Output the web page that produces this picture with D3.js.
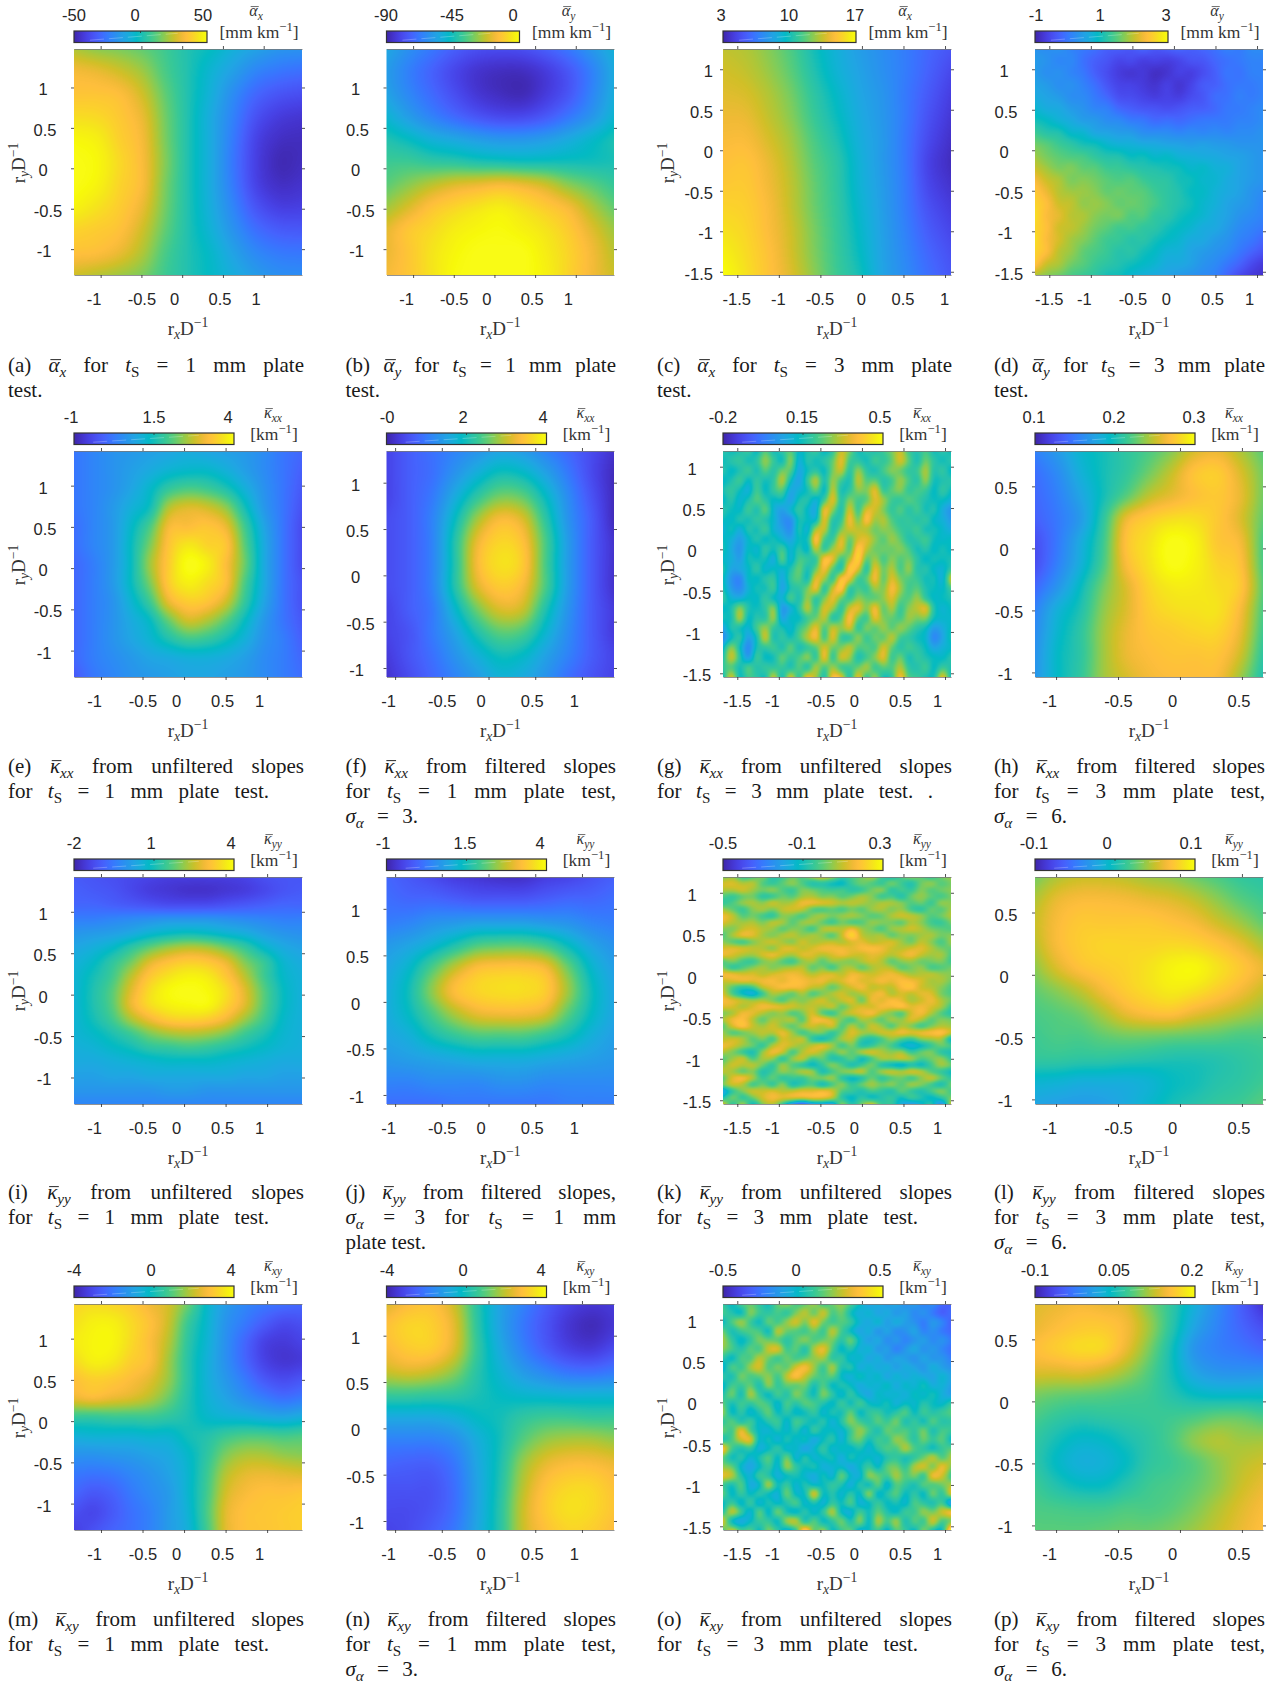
<!DOCTYPE html>
<html>
<head>
<meta charset="utf-8">
<title>Mean deflection and curvature fields</title>
<script src="https://cdn.jsdelivr.net/npm/d3@7"></script>
<style>
  body { margin: 0; background: #fff; }
  svg { display: block; }
</style>
</head>
<body>
<div id="chart"></div>
<script>
// parula colour stops, position in the map (0-63) and colour
const parulaIdx = [0,3,6,9,12,15,18,21,24,27,30,33,36,39,42,45,48,51,53,56,59,62,63];
const parulaHex = ["#3e26a8","#4432cb","#4741e5","#4852f4","#4563fd","#3875fe","#2e87f7","#2796eb","#20a5e3","#12b1d6","#02bac3","#24c1ae","#37c897","#57cc7a","#81cc59","#abc739","#d1bf27","#f0ba36","#febe3c","#fccf2d","#f5e51b","#f7f90a","#f9fb15"];

// fields, rows top to bottom, columns left to right
// (a) alpha_x, 1 mm, mm/km
const alphaX1mm = [
[22,18,16,13,8,2,-2,-8,-13,-17,-18],
[32,30,26,20,10,2,-6,-14,-22,-26,-28],
[36,36,34,26,13,2,-8,-20,-30,-35,-37],
[42,41,37,30,15,2,-10,-23,-36,-42,-44],
[48,46,39,32,16,2,-10,-25,-40,-46,-47],
[50,48,41,33,17,2,-10,-26,-41,-48,-47],
[50,47,40,33,16,2,-10,-25,-40,-46,-45],
[47,43,38,30,15,2,-9,-22,-35,-41,-41],
[40,38,35,26,13,2,-7,-18,-28,-33,-34],
[35,34,30,22,10,2,-4,-13,-21,-25,-26],
[26,23,20,16,8,2,-3,-9,-15,-19,-20]];
// (b) alpha_y, 1 mm, mm/km
const alphaY1mm = [
[-55,-62,-68,-74,-78,-79,-78,-74,-68,-60,-52],
[-58,-66,-73,-80,-85,-87,-87,-83,-76,-66,-54],
[-56,-64,-71,-78,-84,-87,-88,-83,-76,-65,-53],
[-50,-58,-65,-71,-76,-79,-79,-75,-68,-60,-50],
[-43,-47,-52,-55,-58,-60,-60,-58,-54,-49,-44],
[-38,-38,-40,-41,-43,-44,-45,-45,-45,-45,-44],
[-34,-29,-24,-20,-18,-16,-18,-22,-29,-34,-39],
[-27,-20,-13,-9,-6,-4,-7,-11,-16,-25,-33],
[-19,-12,-8,-4,-2,-1,-3,-6,-11,-19,-27],
[-18,-12,-6,-2,0,0,0,-4,-9,-16,-24],
[-16,-12,-6,-1,0,0,0,-3,-9,-16,-22]];
// (c) alpha_x, 3 mm, 0.1 mm/km
const alphaX3mm = [
[134,131,124,114,100,89,80,73,66,58,51],
[137,134,127,117,103,91,82,74,66,56,46],
[140,138,131,121,107,95,84,76,65,53,42],
[143,142,134,124,110,98,86,77,65,50,39],
[146,146,138,128,114,102,88,78,64,47,36],
[149,150,142,131,117,106,90,78,64,44,34],
[152,152,144,133,119,107,91,79,65,46,37],
[156,154,146,134,120,108,93,80,66,50,41],
[160,156,147,136,122,109,95,81,68,54,45],
[165,158,149,137,123,110,97,82,70,58,49],
[170,160,150,139,125,111,100,83,72,61,52]];
// (d) alpha_y, 3 mm, 0.1 mm/km
const alphaY3mm = [
[3,2,3,1,0,-1,-3,-3,-4,-2,-4,-3,-2,-3,-2,-1,1,0,2,2],
[4,3,1,2,-1,-3,-4,-6,-5,-7,-6,-7,-6,-4,-4,-2,-1,0,1,1],
[4,2,3,1,0,-3,-5,-7,-8,-7,-9,-8,-6,-7,-5,-3,0,-1,1,1],
[5,4,2,3,1,-1,-4,-6,-6,-7,-8,-6,-8,-6,-3,-3,-1,0,0,1],
[6,5,4,2,2,0,-2,-5,-5,-6,-7,-6,-7,-5,-4,-1,-1,1,0,1],
[8,6,6,4,3,1,1,-2,-3,-4,-4,-5,-4,-3,-3,-2,0,0,1,2],
[10,9,7,6,4,4,2,2,0,0,-2,-1,-2,-1,0,0,0,1,1,2],
[13,11,11,8,8,5,5,4,4,2,2,2,1,2,1,2,1,2,2,3],
[16,15,13,12,10,10,8,7,7,6,6,5,5,4,5,4,4,3,3,3],
[18,16,15,14,14,12,11,11,9,10,8,9,7,7,6,6,5,5,4,3],
[20,18,16,17,15,15,13,13,12,11,11,10,10,8,9,7,7,5,4,3],
[23,20,19,16,17,16,15,14,15,13,12,12,10,10,8,8,6,5,4,3],
[25,22,19,18,18,17,15,16,15,15,13,12,11,9,9,7,6,5,3,2],
[26,24,20,20,17,18,17,15,16,15,14,12,11,10,8,7,5,4,3,1],
[27,23,22,19,19,17,16,17,14,15,12,12,10,9,8,6,5,3,2,1],
[26,24,20,20,18,16,15,13,14,12,12,10,9,8,6,6,4,2,1,0],
[27,23,21,18,17,15,13,13,11,12,10,9,8,6,6,4,3,1,0,-2],
[26,24,19,18,15,14,13,11,12,10,9,7,7,5,4,3,2,0,-2,-4],
[25,20,19,16,15,13,12,11,10,9,8,6,6,5,3,2,0,-2,-5,-7],
[19,17,16,14,13,12,10,10,8,7,6,5,4,3,2,1,-2,-5,-7,-8]];
// (e) kappa_xx unfiltered, 1 mm, 0.1 /km
const kxxRaw1mm = [
[2,4,6,7,8,9,10,9,8,7,5,2,0],
[2,4,6,8,10,12,13,13,11,8,5,2,-1],
[2,4,6,9,13,18,20,19,16,11,6,2,-2],
[2,4,7,11,15,26,29,28,24,15,7,2,-3],
[1,4,7,13,20,31,32,33,30,19,9,2,-4],
[1,4,7,14,23,33,37,35,33,21,10,2,-4],
[0,3,7,14,25,34,40,38,32,22,10,2,-4],
[0,3,7,14,23,34,38,36,32,20,10,2,-3],
[0,3,6,12,19,30,34,33,28,18,9,2,-3],
[0,3,6,10,14,22,28,26,21,14,7,2,-2],
[0,3,6,9,12,16,19,18,15,11,6,3,-1],
[0,3,5,7,9,10,11,11,10,8,5,3,0],
[-2,2,4,6,7,8,9,9,8,7,5,3,1]];
// (f) kappa_xx filtered, 1 mm, 0.1 /km
const kxxFilt1mm = [
[4,7,9,11,13,15,14,11,8,5,2],
[4,7,9,13,17,20,19,15,10,5,1],
[4,7,10,16,22,26,25,19,12,6,1],
[5,7,11,19,28,33,31,22,13,7,1],
[5,7,11,21,32,36,34,24,14,7,2],
[5,7,11,21,33,37,35,24,14,7,2],
[5,7,11,21,31,35,33,24,14,7,2],
[4,7,10,18,26,31,30,21,13,7,3],
[4,6,10,15,21,25,24,18,12,7,3],
[3,6,9,13,17,20,19,15,11,7,4],
[2,5,8,11,14,17,16,13,9,6,4]];
// (g) kappa_xx unfiltered, 3 mm, 0.01 /km
const kxxRaw3mm = [
[18,14,16,20,12,24,14,18,24,12,16,20,12,18,34,26,14,18,16,20,26,34,20,16,22,14,18,14],
[14,18,20,14,18,30,20,12,30,8,18,14,18,24,38,20,18,14,22,18,24,36,24,14,26,18,14,18],
[18,12,16,22,14,24,16,26,24,6,14,18,12,26,34,16,30,18,14,22,28,24,18,20,32,16,20,12],
[12,16,22,12,20,14,18,34,14,4,20,34,14,30,20,14,34,22,24,16,20,30,22,16,30,14,16,18],
[16,20,14,8,22,12,20,24,6,10,14,26,10,34,14,18,28,26,38,18,24,28,18,22,20,12,20,14],
[12,18,10,16,24,18,12,14,4,16,18,8,20,38,16,28,20,22,36,30,20,18,24,20,16,14,14,10],
[18,14,12,22,14,26,10,4,12,20,12,6,40,28,14,36,18,36,34,26,18,24,16,22,14,18,8,2],
[14,12,18,14,20,16,12,2,0,16,14,10,38,16,18,40,24,42,28,32,22,18,20,16,20,12,10,4],
[10,16,8,18,14,22,10,6,0,18,8,32,34,14,26,34,32,30,24,28,26,20,18,22,14,16,12,8],
[14,10,4,12,18,12,16,10,6,14,14,44,20,18,38,22,34,36,28,22,30,24,16,18,22,14,12,14],
[16,8,2,14,10,20,14,22,10,18,10,34,16,30,36,20,44,32,24,26,24,28,22,14,18,12,16,12],
[12,10,4,16,14,16,6,26,8,22,20,16,42,38,18,30,46,22,30,20,28,22,26,18,12,16,14,16],
[18,6,8,12,20,10,14,10,16,26,14,24,40,22,14,44,36,14,38,24,32,20,30,16,18,12,10,18],
[14,2,-2,14,12,18,20,6,20,24,12,38,30,16,42,38,18,24,40,22,36,26,22,20,14,16,8,34],
[16,4,0,10,16,14,22,4,16,18,26,40,14,34,44,16,22,18,30,26,40,30,20,24,16,14,12,20],
[20,10,8,14,12,20,12,10,24,14,30,16,26,38,24,18,28,24,22,28,36,24,22,30,18,12,14,16],
[12,16,30,16,14,18,30,2,8,18,34,18,36,30,16,34,38,26,40,22,32,18,28,32,38,16,10,14],
[16,14,34,12,18,16,32,4,14,12,20,24,34,14,22,42,24,18,38,26,24,20,30,26,28,14,12,12],
[6,18,14,10,22,30,18,16,10,20,26,38,20,34,28,36,16,28,22,30,22,30,24,18,14,4,8,14],
[0,12,20,4,14,36,14,20,14,22,32,40,18,38,18,16,30,18,26,22,34,20,18,14,12,-2,6,16],
[12,30,14,-2,16,18,22,14,26,14,18,22,36,24,26,34,22,24,20,36,24,16,22,18,14,6,10,12],
[16,36,18,2,22,12,14,26,18,22,30,16,40,16,36,30,14,20,28,38,18,26,14,20,16,14,12,18],
[20,22,14,24,16,20,18,20,14,24,14,32,20,30,18,20,24,32,18,24,22,32,18,16,22,12,20,16],
[14,36,12,22,18,14,34,12,36,16,38,30,14,40,36,14,38,18,30,14,18,40,22,20,16,14,38,14]];
// (h) kappa_xx filtered, 3 mm, 0.001 /km
const kxxFilt3mm = [
[154,170,190,200,210,220,234,254,260,244,224],
[144,160,184,200,212,230,250,272,276,256,230],
[140,154,176,200,224,248,260,270,274,260,230],
[136,150,170,210,260,276,284,284,274,256,226],
[126,150,180,216,270,286,300,294,274,264,220],
[126,154,184,220,266,286,300,294,280,270,220],
[140,166,196,230,256,280,290,290,284,274,224],
[154,184,204,236,256,276,284,286,286,266,220],
[160,190,210,240,260,272,276,280,280,260,216],
[164,194,210,240,260,268,272,272,272,252,210],
[166,194,212,240,254,264,268,268,266,240,204]];
// (i) kappa_yy unfiltered, 1 mm, 0.1 /km
const kyyRaw1mm = [
[-10,-11,-12,-13,-14,-15,-15,-15,-15,-14,-12,-11,-11],
[-9,-10,-11,-13,-15,-16,-17,-17,-16,-15,-13,-11,-10],
[-8,-8,-9,-10,-11,-12,-12,-12,-11,-10,-9,-8,-8],
[-4,-4,-3,-2,-1,0,0,0,-1,-2,-3,-4,-4],
[0,1,2,4,7,9,10,9,7,5,2,0,-1],
[3,5,8,13,18,22,24,23,19,14,8,4,2],
[5,8,13,19,27,31,33,32,28,20,14,7,4],
[6,10,15,24,32,36,38,37,32,24,15,8,5],
[6,11,17,27,35,39,40,39,35,27,17,9,5],
[6,11,17,28,35,38,39,39,34,27,17,9,5],
[6,10,15,23,29,33,34,33,29,22,15,8,5],
[6,8,11,15,20,23,24,23,20,15,11,7,5],
[5,6,8,10,13,14,15,14,12,10,8,6,5],
[4,4,5,6,7,8,8,8,7,6,5,4,4],
[2,2,3,3,4,4,4,4,4,3,3,2,2],
[0,0,0,0,0,1,1,0,0,0,0,0,0],
[-3,-3,-3,-3,-3,-3,-3,-3,-3,-3,-3,-3,-3]];
// (j) kappa_yy filtered, 1 mm, 0.1 /km
const kyyFilt1mm = [
[0,-2,-4,-6,-7,-8,-8,-6,-5,-3,-1],
[1,0,0,-1,-2,-2,-2,-1,0,0,1],
[3,4,6,7,8,8,8,7,6,4,3],
[7,9,12,16,20,21,21,19,14,9,6],
[9,13,20,27,32,33,33,31,22,13,8],
[10,15,24,32,35,36,36,34,25,15,9],
[10,14,20,26,30,31,31,29,21,14,9],
[9,11,15,18,20,20,20,18,15,11,8],
[7,8,9,10,11,11,11,10,9,8,7],
[4,4,5,5,5,6,6,5,5,5,5],
[1,1,1,2,2,2,2,2,3,3,3]];
// (k) kappa_yy unfiltered, 3 mm, 0.01 /km
const kyyRaw3mm = [
[2,6,-6,-2,4,-8,-4,2,-2,6,12,6,-6,-2,2,8,-4,-10,-2,4,0,-6,2,6],
[12,13,8,10,-2,-6,0,6,-2,-10,-8,-12,-14,-4,2,-2,-6,4,-4,-10,2,6,-2,2],
[8,8,12,6,2,6,-2,-6,4,2,-2,-4,-2,-8,-6,2,6,-8,-2,-6,4,-2,2,4],
[-2,-6,0,2,-8,-6,2,-2,6,8,2,4,-2,2,8,4,-6,-2,-10,2,6,0,-4,2],
[-6,-2,6,8,4,12,6,8,16,16,14,12,8,10,8,4,8,8,4,-2,2,-6,6,4],
[6,0,-6,4,8,2,10,12,10,-2,-4,0,-4,2,-2,6,8,2,6,-4,-8,2,-2,6],
[16,10,-2,2,-4,-8,4,2,-4,4,8,2,6,8,4,-2,0,8,12,10,6,-2,2,8],
[13,8,6,8,2,10,8,-2,6,8,0,-6,2,-4,-2,6,4,2,-2,8,4,-4,-6,2],
[4,2,10,12,8,6,-2,4,2,-6,8,12,8,16,6,2,-4,6,8,12,8,2,0,-2],
[-2,8,16,14,6,2,8,10,4,8,4,-4,10,26,8,6,8,-2,4,2,6,8,2,4],
[4,-2,-6,2,8,12,6,2,12,6,8,10,6,12,14,8,10,13,6,0,10,4,-4,6],
[12,14,12,10,8,2,13,14,8,12,16,16,16,13,17,18,16,10,8,12,14,8,2,0],
[16,12,8,6,12,16,10,6,14,13,8,12,16,12,10,14,12,8,13,17,10,6,8,-2],
[-2,4,-4,-6,2,6,-2,-6,4,8,-2,6,4,2,8,12,8,-2,4,6,0,2,4,-4],
[2,-8,-2,4,8,2,6,8,10,-2,4,-6,6,8,-2,6,10,8,-2,2,6,-4,-2,2],
[17,16,12,13,8,12,14,16,13,8,12,14,8,16,14,10,13,16,12,6,8,10,6,4],
[10,13,16,14,16,17,13,18,17,14,16,10,13,18,12,13,17,14,18,16,12,6,8,2],
[8,-2,-8,-4,10,14,18,17,16,10,8,-2,6,12,17,8,10,8,17,20,10,8,4,-2],
[12,-4,-14,-20,-6,8,4,-2,8,-4,2,8,12,4,8,13,17,6,12,8,14,13,2,-2],
[17,14,10,6,8,2,-4,6,2,8,13,4,10,14,-2,16,12,18,14,6,10,16,8,2],
[13,12,6,12,17,16,14,12,8,10,6,12,-2,8,13,10,17,16,20,13,16,12,8,-4],
[2,6,16,14,8,2,6,-4,2,13,-2,-8,6,12,14,18,8,2,-4,12,17,8,-2,-8],
[8,16,18,8,-2,8,6,10,-4,16,18,12,2,-6,8,4,-2,8,4,14,8,-2,4,2],
[-2,13,20,10,6,12,4,-2,8,12,6,14,-4,10,-2,12,6,-4,8,2,-6,2,8,6],
[6,-4,0,6,10,8,16,6,-6,2,4,-8,2,14,8,6,12,12,17,14,16,18,20,12],
[8,12,8,-2,4,-6,12,8,12,-8,-14,-4,8,10,-6,-10,-4,6,-2,-6,4,6,8,-14],
[16,12,6,2,-8,8,14,10,4,10,16,8,-6,4,-10,-6,2,-4,-14,-18,-14,-6,2,-2],
[8,2,-6,-12,6,17,12,-6,8,14,6,-2,8,-2,10,14,8,4,8,-6,2,4,-8,-10],
[-2,6,12,-4,8,6,-10,6,12,-4,2,-10,-8,2,-14,-4,8,8,12,8,-2,2,6,-6],
[4,12,8,10,2,-8,8,-2,-8,-14,-6,6,-2,-12,-4,4,-10,-14,-18,-10,-14,-4,8,2],
[10,6,-2,4,-10,-4,6,2,10,8,-12,-4,4,8,12,-4,8,12,8,14,10,-2,-6,-12],
[-2,14,18,8,-6,2,-8,-4,-6,2,4,8,-8,-14,-10,2,-8,-2,2,-6,4,12,2,-6],
[4,12,8,-6,2,-8,6,-12,-6,-2,-14,-4,6,-6,2,8,2,6,-2,8,4,-4,-12,2],
[-22,-6,4,12,10,13,8,10,14,13,17,13,-2,-4,-10,-2,-6,-10,2,-6,-10,-2,6,-4],
[-10,4,-8,2,12,17,14,16,16,18,17,12,-8,-14,-6,-14,-8,-4,-12,-2,-8,-14,-6,2],
[12,-8,8,-14,4,10,-4,-24,-36,-20,-18,-22,6,-10,2,12,-6,-4,-18,-22,-14,-6,-28,10]];
// (l) kappa_yy filtered, 3 mm, 0.001 /km
const kyyFilt3mm = [
[30,44,50,50,46,40,36,28,20,12,8],
[44,60,66,66,64,60,56,48,36,24,16],
[50,66,74,74,74,74,70,64,52,40,26],
[46,66,76,80,80,80,82,80,72,60,44],
[36,56,70,76,80,86,94,96,86,74,60],
[26,36,48,64,76,84,90,86,76,64,50],
[20,24,30,44,60,68,70,60,52,44,36],
[16,20,20,26,30,30,28,26,24,20,20],
[12,12,10,10,8,6,4,4,6,10,14],
[-10,-12,-16,-16,-16,-12,-4,0,6,10,16],
[-24,-28,-30,-28,-20,-10,0,6,12,16,24]];
// (m) kappa_xy unfiltered, 1 mm, 0.1 /km
const kxyRaw1mm = [
[32,33,32,30,25,21,11,-3,-12,-17,-20,-22,-24],
[34,37,37,33,28,20,6,-4,-14,-20,-26,-30,-29],
[36,38,38,33,27,18,4,-5,-15,-24,-32,-34,-32],
[33,37,36,31,27,16,3,-6,-15,-24,-32,-35,-34],
[28,31,30,27,23,15,3,-6,-13,-20,-27,-30,-28],
[24,26,24,22,18,11,2,-5,-10,-15,-19,-22,-20],
[5,5,6,6,6,4,1,-3,-5,-6,-8,-9,-7],
[-6,-5,-5,-5,-4,-4,0,2,6,8,8,7,8],
[-14,-14,-13,-12,-10,-8,-3,4,13,17,17,15,14],
[-20,-21,-20,-17,-14,-10,-4,6,18,23,24,23,22],
[-24,-27,-25,-20,-16,-12,-4,7,21,26,28,28,29],
[-29,-31,-27,-22,-18,-12,-5,8,23,28,29,30,31],
[-33,-29,-25,-22,-18,-12,-6,7,23,28,29,30,31]];
// (n) kappa_xy filtered, 1 mm, 0.1 /km
const kxyFilt1mm = [
[22,27,28,20,3,-10,-18,-26,-32,-35,-34],
[28,32,31,23,4,-10,-20,-28,-35,-38,-35],
[26,30,30,22,5,-8,-18,-26,-32,-34,-30],
[20,22,20,14,3,-5,-12,-17,-21,-22,-20],
[6,6,5,4,1,-2,-4,-5,-6,-6,-6],
[-8,-8,-8,-6,-2,0,4,6,6,5,5],
[-18,-18,-18,-15,-7,0,9,15,17,17,15],
[-24,-25,-25,-20,-9,1,15,23,26,26,24],
[-28,-28,-28,-22,-10,2,18,28,32,32,28],
[-30,-30,-28,-22,-10,3,20,30,34,33,29],
[-32,-30,-26,-20,-9,3,20,28,32,31,27]];
// (o) kappa_xy unfiltered, 3 mm, 0.01 /km
const kxyRaw3mm = [
[6,-4,10,14,6,-2,14,20,8,12,22,6,14,20,10,-2,-14,-8,-16,-10,-20,-14,-24,-18,-30,-32],
[10,2,-6,20,8,4,10,2,16,26,10,30,8,16,-2,-10,-4,-14,-8,-18,-12,-22,-16,-26,-34,-28],
[-4,12,24,6,-4,16,6,20,30,14,34,14,6,12,8,-6,-12,-2,-16,-6,-14,-18,-26,-14,-20,-32],
[14,-2,8,12,10,-6,28,14,10,6,16,4,28,8,-4,-14,-6,-20,-10,-22,-18,-10,-24,-18,-26,-30],
[22,6,-6,4,18,14,10,2,12,20,8,14,16,2,18,-4,-16,-8,-22,-14,-24,-18,-12,-22,-16,-24],
[18,10,2,14,6,28,32,6,14,-2,24,34,10,-6,4,-10,-4,-18,-12,-26,-16,-8,-20,-14,-22,-28],
[4,-6,12,8,26,14,4,16,6,12,18,22,2,8,-8,-2,-14,-6,-18,-10,-14,-20,-10,-18,-16,-24],
[-8,14,4,22,30,8,18,10,28,36,20,4,26,0,6,-12,-4,-12,-6,-16,-8,-12,-18,-6,-14,-18],
[6,-2,18,8,12,20,6,26,38,24,14,8,14,-4,-10,2,-8,-2,-14,-4,-12,-6,-10,-14,-4,-12],
[-6,10,6,14,-2,22,4,14,10,16,-2,12,-6,4,-2,-12,-4,-8,0,-12,-2,-8,2,-10,-6,-14],
[2,18,-4,26,6,-6,12,0,20,8,-4,20,6,-8,8,-6,-14,-2,-8,-4,-10,0,-6,2,-8,-16],
[12,-2,10,4,14,8,-8,12,2,14,10,2,-6,10,-4,12,-2,-6,2,-10,-2,-6,4,-2,-6,6],
[20,-6,6,-8,2,16,-4,6,-6,-2,8,-8,4,-2,16,-6,6,8,-2,4,14,-4,10,2,8,12],
[4,14,-2,10,-6,4,10,-8,12,4,-4,6,-10,4,20,8,2,14,6,18,-2,8,-4,14,2,4],
[16,6,36,8,-4,-8,2,-6,4,-10,10,-4,-2,-8,6,22,10,-2,16,8,12,4,18,-2,10,8],
[-2,10,28,34,-6,2,-10,4,-6,2,-14,-2,6,-10,10,16,-2,10,4,22,14,2,16,6,14,-4],
[38,8,-2,6,-10,-4,8,-8,-2,-16,-4,8,-8,0,-6,2,-8,4,12,8,26,10,4,-4,6,12],
[10,-4,6,-8,2,14,-6,18,-10,6,-8,-2,2,-12,4,-6,-2,-8,2,6,-2,4,14,28,8,22],
[18,14,-6,-14,-4,8,-8,24,6,-2,4,-10,-6,-4,-14,-2,8,-6,14,16,4,24,30,12,34,18],
[32,26,2,-8,10,2,-10,-4,2,-6,-12,2,-10,18,-4,-10,22,14,8,24,10,18,2,36,28,6],
[6,-2,14,-12,-6,28,-2,8,-8,4,-6,-2,8,2,-12,6,-6,16,-10,12,6,-2,14,8,14,22],
[14,-6,8,-4,6,-4,-10,18,-6,-2,36,-4,4,-8,6,-6,24,-8,4,14,-4,6,-6,18,2,30],
[-4,8,-8,10,-10,4,-6,2,14,-8,2,-10,6,-2,14,-10,-4,8,-4,2,-8,12,4,-2,10,-24],
[2,30,10,-10,16,-8,20,-2,-8,6,-8,6,28,-6,-10,10,-2,14,2,-6,10,6,22,14,28,38],
[30,-8,-14,-4,8,6,-6,24,28,-4,14,-6,4,18,-2,22,-6,26,8,24,-2,14,4,32,8,12],
[10,26,6,12,-4,18,4,-8,6,44,10,20,-4,8,14,-8,-2,10,-6,14,6,-4,18,2,-6,50]];
// (p) kappa_xy filtered, 3 mm, 0.001 /km
const kxyFilt3mm = [
[134,140,146,140,134,98,65,26,-10,-46,-85],
[140,152,161,161,146,110,62,14,-16,-40,-61],
[152,164,173,170,140,98,50,-1,-19,-28,-40],
[134,134,137,128,110,83,50,14,-1,-4,-4],
[98,92,89,86,80,74,59,44,38,38,38],
[80,68,62,65,68,71,74,80,89,89,80],
[68,50,38,41,53,65,80,104,116,110,110],
[65,41,26,29,44,65,74,86,104,119,128],
[74,56,44,44,59,74,80,89,104,125,140],
[80,77,74,74,80,80,86,98,116,134,149],
[86,86,86,89,92,92,98,110,125,140,155]];

// colour limits in the same units as the fields
const colorLimits = [[-50,50],[-90,0],[30,170],[-10,30],[-10,40],[0,40],[-20,50],[100,300],[-20,40],[-10,40],[-50,30],[-100,100],[-40,40],[-40,40],[-50,50],[-100,200]];
const colorbarLabels = [["-50","0","50"],["-90","-45","0"],["3","10","17"],["-1","1","3"],["-1","1.5","4"],["-0","2","4"],["-0.2","0.15","0.5"],["0.1","0.2","0.3"],["-2","1","4"],["-1","1.5","4"],["-0.5","-0.1","0.3"],["-0.1","0","0.1"],["-4","0","4"],["-4","0","4"],["-0.5","0","0.5"],["-0.1","0.05","0.2"]];
const fieldNames = ["*ᾱ*_x_","*ᾱ*_y_","*ᾱ*_x_","*ᾱ*_y_","*κ̄*_xx_","*κ̄*_xx_","*κ̄*_xx_","*κ̄*_xx_","*κ̄*_yy_","*κ̄*_yy_","*κ̄*_yy_","*κ̄*_yy_","*κ̄*_xy_","*κ̄*_xy_","*κ̄*_xy_","*κ̄*_xy_"];
const fields = [alphaX1mm,alphaY1mm,alphaX3mm,alphaY3mm,kxxRaw1mm,kxxFilt1mm,kxxRaw3mm,kxxFilt3mm,kyyRaw1mm,kyyFilt1mm,kyyRaw3mm,kyyFilt3mm,kxyRaw1mm,kxyFilt1mm,kxyRaw3mm,kxyFilt3mm];
// the speckled panels get softer shading
const speckled = [3,6,10,14];

const captions = [
  ["(a) *ᾱ*_x_ for *t*~S~ = 1 mm plate","test."],
  ["(b) *ᾱ*_y_ for *t*~S~ = 1 mm plate","test."],
  ["(c) *ᾱ*_x_ for *t*~S~ = 3 mm plate","test."],
  ["(d) *ᾱ*_y_ for *t*~S~ = 3 mm plate","test."],
  ["(e) *κ̄*_xx_ from unfiltered slopes","for *t*~S~ = 1 mm plate test."],
  ["(f) *κ̄*_xx_ from filtered slopes","for *t*~S~ = 1 mm plate test,","*σ*_α_ = 3."],
  ["(g) *κ̄*_xx_ from unfiltered slopes","for *t*~S~ = 3 mm plate test. ."],
  ["(h) *κ̄*_xx_ from filtered slopes","for *t*~S~ = 3 mm plate test,","*σ*_α_ = 6."],
  ["(i) *κ̄*_yy_ from unfiltered slopes","for *t*~S~ = 1 mm plate test."],
  ["(j) *κ̄*_yy_ from filtered slopes,","*σ*_α_ = 3 for *t*~S~ = 1 mm","plate test."],
  ["(k) *κ̄*_yy_ from unfiltered slopes","for *t*~S~ = 3 mm plate test."],
  ["(l) *κ̄*_yy_ from filtered slopes","for *t*~S~ = 3 mm plate test,","*σ*_α_ = 6."],
  ["(m) *κ̄*_xy_ from unfiltered slopes","for *t*~S~ = 1 mm plate test."],
  ["(n) *κ̄*_xy_ from filtered slopes","for *t*~S~ = 1 mm plate test,","*σ*_α_ = 3."],
  ["(o) *κ̄*_xy_ from unfiltered slopes","for *t*~S~ = 3 mm plate test."],
  ["(p) *κ̄*_xy_ from filtered slopes","for *t*~S~ = 3 mm plate test,","*σ*_α_ = 6."]
];
// right edge of each caption's last line
const capLastRight = [40,376,690,1027,269,418,933,1067,269,0,918,1067,269,418,918,1067];

// axis ranges of each panel
const xRanges = [[-1.327,1.47],[-1.327,1.47],[-1.672,1.072],[-1.672,1.072],[-1.325,1.42],[-1.092,1.343],[-1.672,1.072],[-1.17,0.67],[-1.325,1.42],[-1.092,1.343],[-1.672,1.072],[-1.17,0.67],[-1.325,1.42],[-1.092,1.343],[-1.672,1.072],[-1.17,0.67]];
const yRanges = [[-1.32,1.476],[-1.32,1.476],[-1.54,1.25],[-1.54,1.25],[-1.32,1.42],[-1.097,1.342],[-1.545,1.19],[-1.037,0.785],[-1.32,1.42],[-1.097,1.342],[-1.545,1.19],[-1.037,0.785],[-1.32,1.42],[-1.097,1.342],[-1.545,1.19],[-1.037,0.785]];
const ticks2 = [-1,-0.5,0,0.5,1];
const ticks15 = [-1.5,-1,-0.5,0,0.5,1];
const ticksShort = [-1,-0.5,0,0.5];

// page layout
const width = 1282, height = 1683;
const colLeft = [74,386.5,723,1035], colRight = [302,614,951,1263];
const rowTop = [49,451,877,1304], rowBottom = [275,677,1104,1530];
const barTop = [31,433,859,1286];
const capLeft = [8,345.5,657,994], capRight = [304,616,952,1265];
const capBase = [372,773,1199,1626];
const barLabelX = [[74,135,203],[386,452,513],[721,789,855],[1036,1100,1166],[71,154,228],[387,463,543],[723,802,880],[1034,1114,1194],[74,151,231],[383,465,540],[723,802,880],[1034,1107,1191],[74,151,231],[387,463,541],[723,796,880],[1035,1114,1192]];
// the tick labels sit off their ticks in the original
const xLabelDx = {"-1.5":-0.5,"-1":-7,"-0.5":0,"0":-8,"0.5":-3.5,"1":-8};
const yLabelX = {"1":-31,"0.5":-29,"0":-31,"-0.5":-26,"-1":-30,"-1.5":-26};
const sansFont = "'Liberation Sans', Arial, sans-serif";
const serifFont = "'Liberation Serif', 'Times New Roman', serif";

const parula = d3.scaleLinear().domain(parulaIdx.map(d => d / 63)).range(parulaHex).clamp(true);
const lut = d3.range(256).map(i => d3.rgb(parula(i / 255)));

const svg = d3.select("#chart").append("svg").attr("width", width).attr("height", height);
const defs = svg.append("defs");

// tiny markup: *italic* _italic subscript_ ~roman subscript~ ^superscript^
// returns the char positions that need a bar on top (alpha and kappa bar)
function rich(sel, str, size) {
  const parts = str.split(/(\*[^*]+\*|_[^_]+_|~[^~]+~|\^[^^]+\^)/).filter(s => s.length);
  let shift = 0, count = 0;
  const bars = [];
  parts.forEach(p => {
    const t = sel.append("tspan");
    const kind = p[0];
    let want = 0, txt = p;
    if (kind === "*") { t.attr("font-style", "italic"); txt = p.slice(1, -1); }
    else if (kind === "_") { want = size * 0.22; t.attr("font-style", "italic").attr("font-size", size * 0.72); txt = p.slice(1, -1); }
    else if (kind === "~") { want = size * 0.22; t.attr("font-size", size * 0.72); txt = p.slice(1, -1); }
    else if (kind === "^") { want = -size * 0.38; t.attr("font-size", size * 0.72); txt = p.slice(1, -1); }
    if (txt === "ᾱ") { txt = "α"; bars.push(count); }
    if (txt === "κ̄") { txt = "κ"; bars.push(count); }
    t.text(txt);
    count += txt.length;
    if (want !== shift) { t.attr("dy", want - shift); shift = want; }
  });
  return bars;
}

function drawBars(sel, bars, size) {
  bars.forEach(i => {
    const a = sel.node().getStartPositionOfChar(i), b = sel.node().getEndPositionOfChar(i);
    svg.append("line")
       .attr("x1", a.x + size * 0.09).attr("x2", b.x + size * 0.07)
       .attr("y1", a.y - size * 0.59).attr("y2", a.y - size * 0.59)
       .attr("stroke", sel.attr("fill")).attr("stroke-width", size * 0.045);
  });
}

// smooth shading through the grid values
function throughPoints(v) {
  const n = v.length - 1;
  return t => {
    const s = Math.max(0, Math.min(1, t)) * n;
    const i = Math.min(Math.floor(s), n - 1), u = s - i;
    const p0 = i > 0 ? v[i - 1] : 2 * v[0] - v[1];
    const p1 = v[i], p2 = v[i + 1];
    const p3 = i < n - 1 ? v[i + 2] : 2 * v[n] - v[n - 1];
    return 0.5 * (2 * p1 + (p2 - p0) * u + (2 * p0 - 5 * p1 + 4 * p2 - p3) * u * u + (3 * p1 - p0 - 3 * p2 + p3) * u * u * u);
  };
}

// softer: half way between the above and d3's basis spline
function softShade(v) {
  const a = throughPoints(v), b = d3.interpolateBasis(v);
  return t => 0.5 * a(t) + 0.5 * b(t);
}

function paintField(grid, clim, xr, yr, w, h, xScale, yScale, shade) {
  const canvas = document.createElement("canvas");
  canvas.width = w; canvas.height = h;
  const ctx = canvas.getContext("2d");
  const img = ctx.createImageData(w, h);
  const color = d3.scaleLinear().domain(clim).range([0, 255]).clamp(true);
  const rowFns = grid.map(r => shade(r));
  const xFrac = d3.scaleLinear().domain(xr).range([0, 1]);
  const yFrac = d3.scaleLinear().domain([yr[1], yr[0]]).range([0, 1]);
  for (let i = 0; i < w; i++) {
    const tx = xFrac(xScale.invert(xScale.range()[0] + i + 0.5));
    const colFn = shade(rowFns.map(f => f(tx)));
    for (let j = 0; j < h; j++) {
      const ty = yFrac(yScale.invert(yScale.range()[1] + j + 0.5));
      const c = lut[Math.round(color(colFn(ty)))];
      const k = (j * w + i) * 4;
      img.data[k] = c.r; img.data[k + 1] = c.g; img.data[k + 2] = c.b; img.data[k + 3] = 255;
    }
  }
  ctx.putImageData(img, 0, 0);
  return canvas.toDataURL();
}

fields.forEach((grid, p) => {
  const row = Math.floor(p / 4), col = p % 4;
  const left = colLeft[col], right = colRight[col], top = rowTop[row], bottom = rowBottom[row];
  const xr = xRanges[p], yr = yRanges[p];
  const xScale = d3.scaleLinear().domain(xr).range([left, right]);
  const yScale = d3.scaleLinear().domain(yr).range([bottom, top]);
  const xTicks = col === 2 || p === 3 ? ticks15 : (col === 3 ? ticksShort : ticks2);
  const yTicks = col === 2 || p === 3 ? ticks15 : (col === 3 ? ticksShort : ticks2);
  const aligned = p === 2; // panel (c) keeps its labels on the ticks
  const shade = speckled.includes(p) ? softShade : throughPoints;

  svg.append("image")
     .attr("x", left).attr("y", top)
     .attr("width", right - left).attr("height", bottom - top)
     .attr("preserveAspectRatio", "none")
     .attr("href", paintField(grid, colorLimits[p], xr, yr, Math.round(right - left), Math.round(bottom - top), xScale, yScale, shade));

  // axes on all four sides, numbers only bottom and left
  const axisStyle = g => {
    g.selectAll(".domain").attr("stroke", "#777").attr("stroke-width", 0.8);
    g.selectAll("line").attr("stroke", "#262626").attr("stroke-width", 0.8);
  };
  svg.append("g").attr("transform", "translate(0," + top + ")")
     .call(d3.axisTop(xScale).tickValues(xTicks).tickSize(3).tickSizeOuter(0).tickFormat("")).call(axisStyle);
  svg.append("g").attr("transform", "translate(" + right + ",0)")
     .call(d3.axisRight(yScale).tickValues(yTicks).tickSize(3).tickSizeOuter(0).tickFormat("")).call(axisStyle)
     .select(".domain").attr("stroke", "none");
  const xAxis = svg.append("g").attr("transform", "translate(0," + bottom + ")")
     .call(d3.axisBottom(xScale).tickValues(xTicks).tickSize(3).tickSizeOuter(0).tickFormat(String)).call(axisStyle);
  xAxis.selectAll("text")
     .attr("y", 30).attr("dy", 0)
     .attr("dx", d => aligned ? -1 : xLabelDx[String(d)])
     .attr("font-family", sansFont).attr("font-size", 16.5).attr("fill", "#262626");
  const yAxis = svg.append("g").attr("transform", "translate(" + left + ",0)")
     .call(d3.axisLeft(yScale).tickValues(yTicks).tickSize(3).tickSizeOuter(0).tickFormat(String)).call(axisStyle);
  yAxis.select(".domain").attr("stroke", "none");
  yAxis.selectAll("text")
     .attr("x", d => aligned ? -10 : yLabelX[String(d)])
     .attr("y", 0).attr("dy", 7.5)
     .attr("text-anchor", aligned ? "end" : "middle")
     .attr("font-family", sansFont).attr("font-size", 16.5).attr("fill", "#262626");

  // x and y titles
  const xt = svg.append("text").attr("x", (left + right) / 2).attr("y", bottom + 59.5)
     .attr("text-anchor", "middle").attr("font-family", serifFont).attr("font-size", 19).attr("fill", "#333");
  rich(xt, "r_x_D^−1^", 19);
  if (col === 0 || col === 2) {
    const yt = svg.append("text")
       .attr("transform", "translate(" + (left - 49) + "," + (top + 114) + ") rotate(-90)")
       .attr("text-anchor", "middle").attr("font-family", serifFont).attr("font-size", 19).attr("fill", "#333");
    rich(yt, "r_y_D^−1^", 19);
  }

  // colour bar
  const barW = row === 0 ? 133 : 160, barH = 11.5, barY = barTop[row];
  const gid = "grad" + p;
  defs.append("linearGradient").attr("id", gid)
     .selectAll("stop").data(d3.range(0, 1.001, 1 / 32)).enter().append("stop")
     .attr("offset", d => d).attr("stop-color", d => parula(d));
  svg.append("rect").attr("x", left).attr("y", barY).attr("width", barW).attr("height", barH)
     .attr("fill", "url(#" + gid + ")").attr("stroke", "#333").attr("stroke-width", 1.2);
  svg.append("line").attr("x1", left + barW * 0.12).attr("x2", left + barW * 0.78)
     .attr("y1", barY + barH * 0.8).attr("y2", barY + barH * 0.2)
     .attr("stroke", "#fff").attr("stroke-opacity", 0.3).attr("stroke-width", 0.8).attr("stroke-dasharray", "14 5");
  svg.append("line").attr("x1", left + barW / 2).attr("x2", left + barW / 2)
     .attr("y1", barY).attr("y2", barY + 2).attr("stroke", "#333").attr("stroke-width", 0.8);
  colorbarLabels[p].forEach((s, i) => {
    svg.append("text").attr("x", barLabelX[p][i]).attr("y", barY - 10.5)
       .attr("text-anchor", "middle").attr("font-family", sansFont).attr("font-size", 16.5).attr("fill", "#262626").text(s);
  });
  const nameX = left + (row === 0 ? 182 : 199), unitX = left + (row === 0 ? 185 : 200);
  const nm = svg.append("text").attr("x", nameX).attr("y", barY - 15)
     .attr("text-anchor", "middle").attr("font-family", serifFont).attr("font-size", 16).attr("fill", "#333");
  drawBars(nm, rich(nm, fieldNames[p], 16), 16);
  const un = svg.append("text").attr("x", unitX).attr("y", barY + 7)
     .attr("text-anchor", "middle").attr("font-family", serifFont).attr("font-size", 17.5).attr("fill", "#333");
  rich(un, row === 0 ? "[mm km^−1^]" : "[km^−1^]", 17.5);

  // caption, lines stretched to their right edge
  captions[p].forEach((line, i) => {
    const last = i === captions[p].length - 1;
    const t = svg.append("text").attr("x", capLeft[col]).attr("y", capBase[row] + i * 25)
       .attr("font-family", serifFont).attr("font-size", 21).attr("fill", "#1a1a1a");
    const bars = rich(t, line, 21);
    const gaps = (line.match(/ /g) || []).length;
    const natural = t.node().getComputedTextLength();
    const target = (last ? capLastRight[p] : capRight[col]) - capLeft[col];
    if (gaps > 0 && target > natural) {
      t.attr("word-spacing", (target - natural) / gaps);
    }
    drawBars(t, bars, 21);
  });
});
</script>
</body>
</html>
